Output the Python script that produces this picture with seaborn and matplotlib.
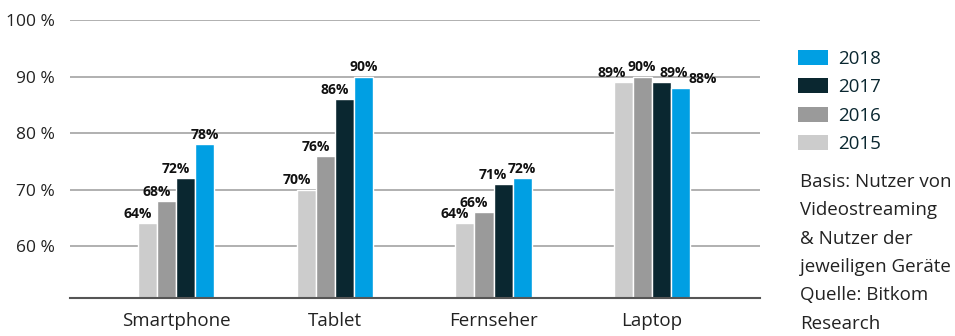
import matplotlib
matplotlib.use("Agg")
import matplotlib.pyplot as plt
import seaborn as sns
import pandas as pd
from matplotlib.patches import Patch

categories = ["Smartphone", "Tablet", "Fernseher", "Laptop"]
years = ["2015", "2016", "2017", "2018"]
v2015 = [64, 70, 64, 89]
v2016 = [68, 76, 66, 90]
v2017 = [72, 86, 71, 89]
v2018 = [78, 90, 72, 88]
yticks = [60, 70, 80, 90, 100]
ytick_labels = ["60 %", "70 %", "80 %", "90 %", "100 %"]
note = "Basis: Nutzer von\nVideostreaming\n& Nutzer der\njeweiligen Geräte\nQuelle: Bitkom\nResearch"

colors = {"2015": "#cccccc", "2016": "#9a9a9a", "2017": "#0a2730", "2018": "#009fe3"}
# horizontal nudges of value labels (pixels), per year; Laptop group spread out
label_nudge = {"2015": -10, "2016": -10, "2017": -10, "2018": 0}
laptop_nudge = {"2015": -12, "2016": -1, "2017": 12, "2018": 22}

rows = []
for year, vals in zip(years, [v2015, v2016, v2017, v2018]):
    for c, v in zip(categories, vals):
        rows.append({"Gerät": c, "Jahr": year, "Wert": v})
df = pd.DataFrame(rows)

sns.set_style("white")
plt.rcParams["font.family"] = ["Open Sans", "DejaVu Sans"]

fig = plt.figure(figsize=(9.55, 3.36), dpi=100)
ax = fig.add_axes([70 / 955, 1 - 298 / 336, 690 / 955, 278 / 336])

sns.barplot(data=df, x="Gerät", y="Wert", hue="Jahr", order=categories,
            hue_order=years, palette=colors, width=0.48, ax=ax,
            saturation=1, legend=False, errorbar=None)

ax.set_ylim(50.8, 100)
ax.set_xlim(-0.67, 3.68)
ax.set_yticks(yticks)
ax.set_yticklabels(ytick_labels)
ax.set_xlabel("")
ax.set_ylabel("")
ax.yaxis.grid(True, color="#aaaaaa", linewidth=1.3)
ax.set_axisbelow(True)
for s in ["top", "right", "left"]:
    ax.spines[s].set_visible(False)
ax.spines["bottom"].set_color("#555555")
ax.spines["bottom"].set_linewidth(1.5)
ax.tick_params(axis="y", length=0, pad=11, labelsize=12.5, labelcolor="#222222")
ax.tick_params(axis="x", length=0, pad=10, labelsize=13.5, labelcolor="#222222")

for year, cont in zip(years, ax.containers):
    for cat, p in zip(categories, cont):
        h = p.get_height()
        dx = laptop_nudge[year] if cat == "Laptop" else label_nudge[year]
        ax.annotate(f"{h:.0f}%", (p.get_x() + p.get_width() / 2, h),
                    xytext=(dx * 0.72, 1.5), textcoords="offset points",
                    ha="center", va="bottom", fontsize=10, fontweight="bold",
                    color="#111111")

handles = [Patch(facecolor=colors[y], edgecolor="none") for y in years][::-1]
fig.legend(handles, years[::-1], loc="upper left", bbox_to_anchor=(798 / 955, 1 - 50 / 336),
           frameon=False, fontsize=13.5, handlelength=1.6, handleheight=0.85,
           labelspacing=0.55, handletextpad=0.55, labelcolor="#0a2730",
           borderaxespad=0, borderpad=0)

fig.text(800 / 955, 1 - 173 / 336, note, ha="left", va="top", fontsize=13.5,
         color="#222222", linespacing=1.74)

fig.savefig("out.png", dpi=100)
